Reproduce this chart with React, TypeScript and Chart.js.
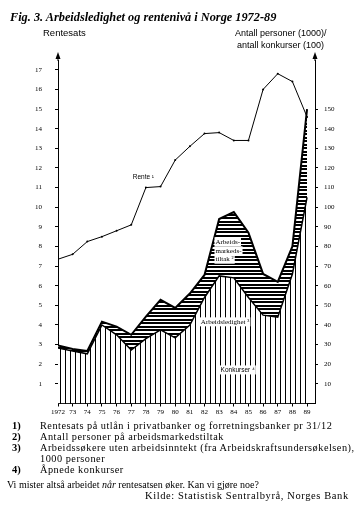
import React, { useEffect, useRef } from "react";
import { Chart, registerables } from "chart.js";
Chart.register(...registerables);

// ---- data ----
const years = [1972, 1973, 1974, 1975, 1976, 1977, 1978, 1979, 1980, 1981, 1982, 1983, 1984, 1985, 1986, 1987, 1988, 1989];
const yearLabels = ["1972", "73", "74", "75", "76", "77", "78", "79", "80", "81", "82", "83", "84", "85", "86", "87", "88", "89"];
// Rentesats (%), left axis
const renteValues = [7.35, 7.6, 8.25, 8.5, 8.8, 9.1, 11.0, 11.05, 12.4, 13.1, 13.75, 13.8, 13.4, 13.4, 16.0, 16.8, 16.4, 14.6];
// Arbeidsledighet (1000 personer), right axis
const ledighetValues = [28.3, 26.8, 25.3, 40, 35, 27.2, 33, 37.5, 33.4, 40, 54, 65, 64, 54, 45, 44, 66, 105];
// Arbeidsmarkedstiltak (1000 personer), stacked on top of ledighet
const tiltakValues = [1.2, 1.0, 1.5, 1.7, 4.2, 7.8, 11.3, 15.3, 15.3, 16, 11.5, 29, 33.5, 33, 21, 18, 14, 45];
// Åpnede konkurser (100), right axis
const konkursValues = [4.7, 6.0, 6.3, 5.5, 5.2, 5.7, 6.9, 7.7, 7.7, 8.1, 9.4, 11.6, 12.5, 13.4, 13.9, 21.5, 34, 46];
const leftTicks = [1, 2, 3, 4, 5, 6, 7, 8, 9, 10, 11, 12, 13, 14, 15, 16, 17];
const rightTicks = [10, 20, 30, 40, 50, 60, 70, 80, 90, 100, 110, 120, 130, 140, 150];

const CANVAS_W = 363;
const CANVAS_H = 422;
const AREA_LEFT = 58;
const AREA_RIGHT = 315;
const AREA_TOP = 60;
const AREA_BOTTOM = 403.5;

function makePattern(w: number, h: number, cells: [number, number][]) {
  const c = document.createElement("canvas");
  c.width = w;
  c.height = h;
  const g = c.getContext("2d")!;
  g.fillStyle = "#fff";
  g.fillRect(0, 0, w, h);
  g.fillStyle = "#000";
  cells.forEach(([x, y]) => g.fillRect(x, y, 1, 1));
  const ctx = document.createElement("canvas").getContext("2d")!;
  return ctx.createPattern(c, "repeat")!;
}

const labelPlugin = {
  id: "inlineLabels",
  afterDatasetsDraw(chart: any) {
    const { ctx, scales, chartArea } = chart;
    const x = scales.x, y = scales.y, y1 = scales.y1;
    ctx.save();
    ctx.fillStyle = "#000";
    ctx.textBaseline = "middle";
    ctx.textAlign = "left";
    const put = (text: string, px: number, py: number, font: string, bg: boolean) => {
      ctx.font = font;
      if (bg) {
        const w = ctx.measureText(text).width;
        ctx.fillStyle = "#fff";
        ctx.fillRect(px - 1, py - 4.5, w + 2, 9);
        ctx.fillStyle = "#000";
      }
      ctx.fillText(text, px, py);
    };
    const serif = "7px 'Liberation Serif', serif";
    put("Rente \u00B9", x.getPixelForValue(1977.1), y.getPixelForValue(11.55), "6.5px 'Liberation Sans', sans-serif", false);
    put("Arbeids-", x.getPixelForValue(1982.75), y1.getPixelForValue(82.4), serif, true);
    put("markeds-", x.getPixelForValue(1982.75), y1.getPixelForValue(77.8), serif, true);
    put("tiltak \u00B2", x.getPixelForValue(1982.75), y1.getPixelForValue(73.5), serif, true);
    put("Arbeidsledighet \u00B3", x.getPixelForValue(1981.75), y1.getPixelForValue(41.6), serif, true);
    put("Konkurser \u2074", x.getPixelForValue(1983.1), y1.getPixelForValue(17.1), "6.5px 'Liberation Sans', sans-serif", true);

    // arrowheads on both axes
    const arrow = (ax: number) => {
      ctx.beginPath();
      ctx.moveTo(ax, chartArea.top - 8);
      ctx.lineTo(ax - 2.5, chartArea.top - 1);
      ctx.lineTo(ax + 2.5, chartArea.top - 1);
      ctx.closePath();
      ctx.fill();
      ctx.fillRect(ax - 0.5, chartArea.top - 2, 1, 3);
    };
    arrow(chartArea.left);
    arrow(chartArea.right);
    ctx.restore();
  },
};

function ChartCanvas() {
  const ref = useRef<HTMLCanvasElement>(null);
  useEffect(() => {
    if (!ref.current) return;
    const vPattern = makePattern(5, 1, [[0, 0]]);
    const hPattern = makePattern(1, 7, [[0, 0], [0, 1], [0, 4], [0, 5]]);
    const totals = ledighetValues.map((v, i) => v + tiltakValues[i]);
    const tickFont = { size: 7, family: "'Liberation Serif', serif" };
    const chart = new Chart(ref.current, {
      type: "line",
      data: {
        datasets: [
          {
            label: "Arbeidsledighet",
            data: years.map((yr, i) => ({ x: yr, y: ledighetValues[i] })),
            yAxisID: "y1",
            borderColor: "#000",
            borderWidth: 1.5,
            pointRadius: 0,
            fill: "origin",
            backgroundColor: vPattern,
          },
          {
            label: "Arbeidsmarkedstiltak",
            data: years.map((yr, i) => ({ x: yr, y: totals[i] })),
            yAxisID: "y1",
            borderColor: "#000",
            borderWidth: 2,
            pointRadius: 0,
            fill: "-1",
            backgroundColor: hPattern,
          },
          {
            label: "Rente",
            data: years.map((yr, i) => ({ x: yr, y: renteValues[i] })),
            yAxisID: "y",
            borderColor: "#000",
            borderWidth: 1,
            pointRadius: 1,
            pointBackgroundColor: "#000",
            pointBorderWidth: 0,
            fill: false,
          },
          {
            label: "Konkurser",
            data: years.map((yr, i) => ({ x: yr, y: konkursValues[i] })),
            yAxisID: "y1",
            borderColor: "#000",
            borderWidth: 1,
            borderDash: [3, 2],
            pointRadius: 0,
            fill: false,
          },
        ],
      },
      options: {
        animation: false,
        responsive: false,
        maintainAspectRatio: false,
        devicePixelRatio: 1,
        layout: { padding: { top: AREA_TOP, left: 0, right: 0, bottom: 0 } },
        plugins: { legend: { display: false }, tooltip: { enabled: false }, title: { display: false } },
        scales: {
          x: {
            type: "linear",
            min: 1972,
            max: 1972 + (AREA_RIGHT - AREA_LEFT) / 14.65,
            afterBuildTicks: (s: any) => { s.ticks = years.map((v) => ({ value: v })); },
            afterFit: (s: any) => { s.height = CANVAS_H - AREA_BOTTOM; },
            ticks: {
              font: tickFont,
              color: "#000",
              padding: 1,
              maxRotation: 0,
              autoSkip: false,
              callback: (v: any) => { const i = years.indexOf(Number(v)); return i >= 0 ? yearLabels[i] : ""; },
            },
            grid: { drawOnChartArea: false, drawTicks: true, tickLength: 3, color: "#000" },
            border: { display: true, color: "#000", width: 1 },
          },
          y: {
            type: "linear",
            position: "left",
            min: 0,
            max: (AREA_BOTTOM - AREA_TOP) / 19.63,
            afterBuildTicks: (s: any) => { s.ticks = leftTicks.map((v) => ({ value: v })); },
            afterFit: (s: any) => { s.width = AREA_LEFT; },
            ticks: { font: tickFont, color: "#000", padding: 13, autoSkip: false },
            grid: { drawOnChartArea: false, drawTicks: true, tickLength: 3, color: "#000" },
            border: { display: true, color: "#000", width: 1 },
          },
          y1: {
            type: "linear",
            position: "right",
            min: 0,
            max: (AREA_BOTTOM - AREA_TOP) / 1.963,
            afterBuildTicks: (s: any) => { s.ticks = rightTicks.map((v) => ({ value: v })); },
            afterFit: (s: any) => { s.width = CANVAS_W - AREA_RIGHT; },
            ticks: { font: tickFont, color: "#000", padding: 6, autoSkip: false },
            grid: { drawOnChartArea: false, drawTicks: true, tickLength: 3, color: "#000" },
            border: { display: true, color: "#000", width: 1, dash: [5, 3] },
          },
        },
      },
      plugins: [labelPlugin],
    } as any);
    return () => chart.destroy();
  }, []);
  return <canvas ref={ref} width={CANVAS_W} height={CANVAS_H} style={{ position: "absolute", left: 0, top: 0, width: CANVAS_W, height: CANVAS_H }} />;
}

const serifFont = "'Liberation Serif', 'Times New Roman', serif";
const sansFont = "'Liberation Sans', Arial, sans-serif";

function T(props: { x: number; y: number; size: number; children: React.ReactNode; style?: React.CSSProperties }) {
  return (
    <div style={{ position: "absolute", left: props.x, top: props.y, fontSize: props.size, lineHeight: "12px", whiteSpace: "nowrap", fontFamily: serifFont, color: "#000", ...props.style }}>
      {props.children}
    </div>
  );
}

const footnotes: [string, string][] = [
  ["1)", "Rentesats på utlån i privatbanker og forretningsbanker pr 31/12"],
  ["2)", "Antall personer på arbeidsmarkedstiltak"],
  ["3)", "Arbeidssøkere uten arbeidsinntekt (fra Arbeidskraftsundersøkelsen),"],
  ["", "1000 personer"],
  ["4)", "Åpnede konkurser"],
];

export default function App() {
  return (
    <div style={{ position: "absolute", left: 0, top: 0, width: 363, height: 526, background: "#fff", overflow: "hidden" }}>
      <ChartCanvas />
      <T x={10} y={11} size={12.3} style={{ fontWeight: "bold", fontStyle: "italic" }}>
        Fig. 3. Arbeidsledighet og rentenivå i Norge 1972-89
      </T>
      <T x={43} y={27} size={9.5} style={{ fontFamily: sansFont }}>Rentesats</T>
      <T x={235} y={27} size={9} style={{ fontFamily: sansFont }}>Antall personer (1000)/</T>
      <T x={237} y={39} size={9} style={{ fontFamily: sansFont }}>antall konkurser (100)</T>
      {footnotes.map(([n, t], i) => (
        <React.Fragment key={i}>
          {n && <T x={12} y={420 + i * 11} size={10.5} style={{ fontWeight: "bold" }}>{n}</T>}
          <T x={40} y={420 + i * 11} size={10.3} style={{ letterSpacing: "0.5px" }}>{t}</T>
        </React.Fragment>
      ))}
      <T x={7} y={479} size={10}>
        Vi mister altså arbeidet <i>når</i> rentesatsen øker. Kan vi gjøre noe?
      </T>
      <T x={145} y={490} size={10.5} style={{ letterSpacing: "0.6px" }}>Kilde: Statistisk Sentralbyrå, Norges Bank</T>
    </div>
  );
}
